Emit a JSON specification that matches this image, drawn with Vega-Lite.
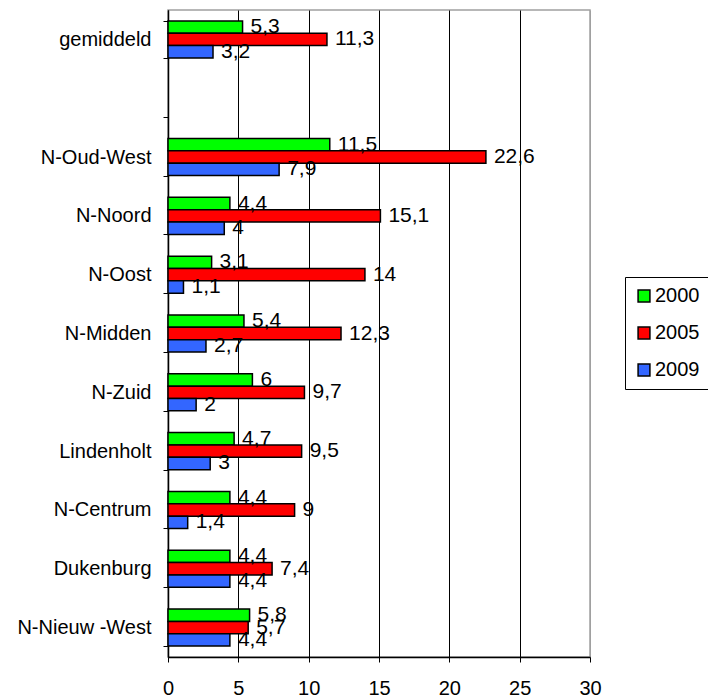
{
  "$schema": "https://vega.github.io/schema/vega-lite/v6.json",
  "autosize": "none",
  "width": 422,
  "height": 647,
  "padding": {"left": 168, "top": 10, "right": 118, "bottom": 43},
  "background": "white",
  "config": {
    "font": "Liberation Sans",
    "view": {"stroke": "#a0a0a0", "strokeWidth": 1.5}
  },
  "data": {
    "values": [
      {"wijk": "gemiddeld", "jaar": "2000", "waarde": 5.3},
      {"wijk": "gemiddeld", "jaar": "2005", "waarde": 11.3},
      {"wijk": "gemiddeld", "jaar": "2009", "waarde": 3.2},
      {"wijk": "N-Oud-West", "jaar": "2000", "waarde": 11.5},
      {"wijk": "N-Oud-West", "jaar": "2005", "waarde": 22.6},
      {"wijk": "N-Oud-West", "jaar": "2009", "waarde": 7.9},
      {"wijk": "N-Noord", "jaar": "2000", "waarde": 4.4},
      {"wijk": "N-Noord", "jaar": "2005", "waarde": 15.1},
      {"wijk": "N-Noord", "jaar": "2009", "waarde": 4},
      {"wijk": "N-Oost", "jaar": "2000", "waarde": 3.1},
      {"wijk": "N-Oost", "jaar": "2005", "waarde": 14},
      {"wijk": "N-Oost", "jaar": "2009", "waarde": 1.1},
      {"wijk": "N-Midden", "jaar": "2000", "waarde": 5.4},
      {"wijk": "N-Midden", "jaar": "2005", "waarde": 12.3},
      {"wijk": "N-Midden", "jaar": "2009", "waarde": 2.7},
      {"wijk": "N-Zuid", "jaar": "2000", "waarde": 6},
      {"wijk": "N-Zuid", "jaar": "2005", "waarde": 9.7},
      {"wijk": "N-Zuid", "jaar": "2009", "waarde": 2},
      {"wijk": "Lindenholt", "jaar": "2000", "waarde": 4.7},
      {"wijk": "Lindenholt", "jaar": "2005", "waarde": 9.5},
      {"wijk": "Lindenholt", "jaar": "2009", "waarde": 3},
      {"wijk": "N-Centrum", "jaar": "2000", "waarde": 4.4},
      {"wijk": "N-Centrum", "jaar": "2005", "waarde": 9},
      {"wijk": "N-Centrum", "jaar": "2009", "waarde": 1.4},
      {"wijk": "Dukenburg", "jaar": "2000", "waarde": 4.4},
      {"wijk": "Dukenburg", "jaar": "2005", "waarde": 7.4},
      {"wijk": "Dukenburg", "jaar": "2009", "waarde": 4.4},
      {"wijk": "N-Nieuw -West", "jaar": "2000", "waarde": 5.8},
      {"wijk": "N-Nieuw -West", "jaar": "2005", "waarde": 5.7},
      {"wijk": "N-Nieuw -West", "jaar": "2009", "waarde": 4.4}
    ]
  },
  "transform": [
    {"calculate": "replace(toString(datum.waarde), '.', ',')", "as": "label"}
  ],
  "encoding": {
    "y": {
      "field": "wijk",
      "type": "nominal",
      "scale": {
        "domain": ["gemiddeld", " ", "N-Oud-West", "N-Noord", "N-Oost", "N-Midden", "N-Zuid", "Lindenholt", "N-Centrum", "Dukenburg", "N-Nieuw -West"],
        "paddingInner": 0.37,
        "paddingOuter": 0.185
      },
      "axis": {
        "title": null,
        "labelFontSize": 20,
        "labelColor": "black",
        "domainColor": "black",
        "domainWidth": 1.5,
        "tickColor": "black",
        "tickBand": "extent",
        "tickSize": 5,
        "labelPadding": 12,
        "grid": false
      }
    },
    "yOffset": {
      "field": "jaar",
      "type": "nominal",
      "scale": {"domain": ["2000", "2005", "2009"], "paddingInner": 0, "paddingOuter": 0}
    },
    "x": {
      "field": "waarde",
      "type": "quantitative",
      "scale": {"domain": [0, 30], "nice": false, "zero": true},
      "axis": {
        "title": null,
        "values": [0, 5, 10, 15, 20, 25, 30],
        "labelFontSize": 20,
        "labelColor": "black",
        "domainColor": "black",
        "domainWidth": 1.5,
        "tickColor": "black",
        "tickSize": 5,
        "labelPadding": 16,
        "labelFlush": false,
        "grid": true,
        "gridColor": {"condition": {"test": "datum.value == 30", "value": "#a0a0a0"}, "value": "black"},
        "gridWidth": 1
      }
    }
  },
  "layer": [
    {
      "mark": {"type": "bar", "stroke": "black", "strokeWidth": 1.5},
      "encoding": {
        "color": {
          "field": "jaar",
          "type": "nominal",
          "scale": {"domain": ["2000", "2005", "2009"], "range": ["#00ff00", "#ff0000", "#3366ff"]},
          "legend": {
            "title": null,
            "orient": "none",
            "legendX": 457,
            "legendY": 267,
            "direction": "vertical",
            "symbolType": "square",
            "symbolSize": 140,
            "symbolStrokeColor": "black",
            "symbolStrokeWidth": 1.5,
            "labelFontSize": 20,
            "labelColor": "black",
            "labelOffset": 1,
            "rowPadding": 17,
            "padding": 9,
            "strokeColor": "black",
            "fillColor": "white",
            "cornerRadius": 0
          }
        }
      }
    },
    {
      "mark": {"type": "text", "align": "left", "baseline": "middle", "dx": 8, "fontSize": 21, "color": "black"},
      "encoding": {
        "text": {"field": "label", "type": "nominal"}
      }
    }
  ]
}
